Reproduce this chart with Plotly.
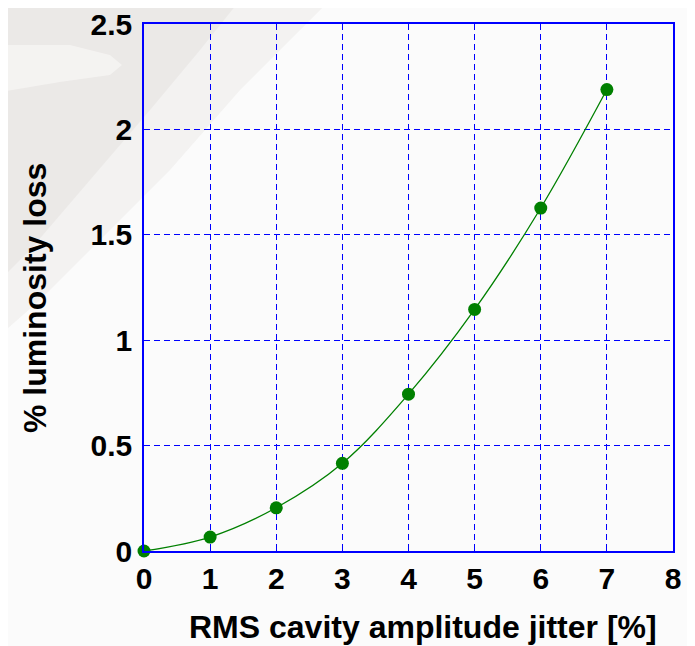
import plotly.graph_objects as go

# Data
jitter = [0, 1, 2, 3, 4, 5, 6, 7]
lum_loss = [0.0, 0.066, 0.205, 0.416, 0.744, 1.146, 1.627, 2.189]
x_ticks = [0, 1, 2, 3, 4, 5, 6, 7, 8]
y_ticks = [0, 0.5, 1, 1.5, 2, 2.5]
y_tick_labels = ["0", "0.5", "1", "1.5", "2", "2.5"]
x_title = "RMS cavity amplitude jitter [%]"
y_title = "% luminosity loss"

OFF = 8  # default page body margin
W, H = 679, 638
ML, MR, MT, MB = 136, 14, 16, 95
PW, PH = W - ML - MR, H - MT - MB

def px(x, y):
    return (x - OFF - ML) / PW, (OFF + H - MB - y) / PH

def path(pts):
    s = ""
    for i, (x, y) in enumerate(pts):
        a, b = px(x, y)
        s += ("M" if i == 0 else "L") + f"{a:.4f},{b:.4f} "
    return s + "Z"

fig = go.Figure()
fig.add_trace(go.Scatter(
    x=jitter, y=lum_loss, mode="lines+markers",
    line=dict(color="#008000", width=1.3, shape="spline", smoothing=1),
    marker=dict(color="#008000", size=13),
    cliponaxis=False, showlegend=False,
))

shapes = [
    dict(type="path", xref="paper", yref="paper", layer="below", line_width=0,
         fillcolor="rgba(220,217,213,0.25)",
         path=path([(0, 0), (330, 0), (300, 30), (240, 90), (170, 170), (100, 240), (40, 300), (0, 335)])),
    dict(type="path", xref="paper", yref="paper", layer="below", line_width=0,
         fillcolor="rgba(210,207,203,0.25)",
         path=path([(0, 0), (240, 0), (200, 50), (150, 110), (90, 180), (30, 250), (0, 280)])),
    dict(type="path", xref="paper", yref="paper", layer="below", line_width=0,
         fillcolor="rgba(248,247,245,0.7)",
         path=path([(0, 45), (70, 45), (110, 55), (122, 65), (110, 75), (60, 82), (0, 92)])),
]

tickfont = dict(size=30, family="Liberation Sans, Arial", weight="bold", color="black")
titlefont = dict(size=32, family="Liberation Sans, Arial", weight="bold", color="black")

common = dict(
    showgrid=True, gridcolor="#0000ff", griddash="6px,4px", gridwidth=1,
    showline=True, linecolor="#0000ff", linewidth=1.5, mirror=True,
    ticks="inside", ticklen=5, tickcolor="#0000ff",
    tickfont=tickfont, zeroline=False, automargin=False,
    ticklabeloverflow="allow",
)

xt = px(423, 627)
yt = px(35, 298)
annotations = [
    dict(text=x_title, xref="paper", yref="paper", x=xt[0], y=xt[1],
         xanchor="center", yanchor="middle", showarrow=False, font=titlefont),
    dict(text=y_title, xref="paper", yref="paper", x=yt[0], y=yt[1], textangle=-90,
         xanchor="center", yanchor="middle", showarrow=False, font=titlefont),
]

fig.update_layout(
    width=W, height=H,
    margin=dict(l=ML, r=MR, t=MT, b=MB, autoexpand=False),
    paper_bgcolor="#fbfbfb",
    plot_bgcolor="rgba(0,0,0,0)",
    font=dict(family="Liberation Sans, Arial, sans-serif", color="black"),
    shapes=shapes,
    annotations=annotations,
    xaxis=dict(
        range=[0, 8], tickvals=x_ticks, ticktext=[str(t) for t in x_ticks],
        **common,
    ),
    yaxis=dict(
        range=[0, 2.5], tickvals=y_ticks, ticktext=y_tick_labels,
        ticklabelstandoff=4,
        **common,
    ),
)

fig.write_html("out.html")
